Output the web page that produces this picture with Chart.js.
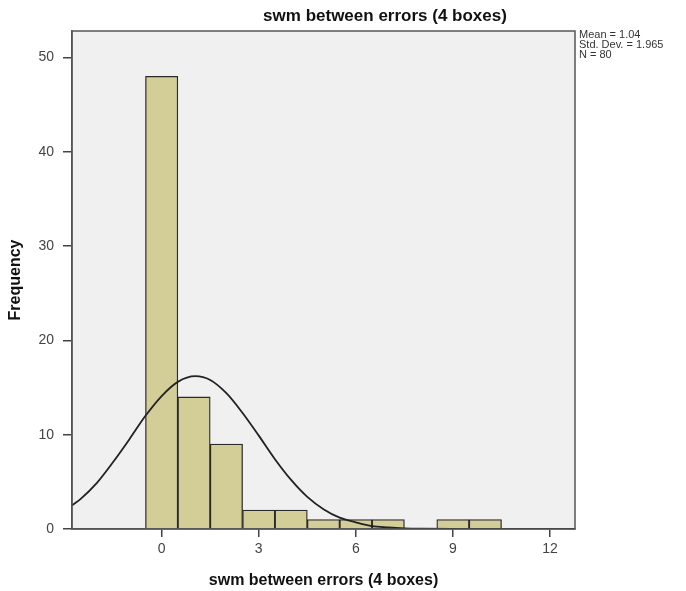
<!DOCTYPE html>
<html>
<head>
<meta charset="utf-8">
<script src="https://cdn.jsdelivr.net/npm/chart.js@4"></script>
<style>
  html, body { margin: 0; padding: 0; background: #fff; }
  #wrap { width: 686px; height: 591px; }
</style>
</head>
<body>
<div id="wrap"><canvas id="hist" width="686" height="591"></canvas></div>
<script>
// Histogram bins (width 1, centered on the value)
const binCenters = [0, 1, 2, 3, 4, 5, 6, 7, 8, 9, 10];
const frequencies = [48, 14, 9, 2, 2, 1, 1, 1, 0, 1, 1];

// Normal curve
const curveX = [-2.77, -2.5, -2, -1.5, -1, -0.5, 0, 0.5, 1.04, 1.5, 2, 2.5, 3, 3.5, 4, 4.5, 5, 5.5, 6, 6.5, 7, 7.5, 8, 9, 10, 11, 12, 12.77];
const curveY = [2.5, 3.2, 4.9, 7.1, 9.5, 12.0, 14.1, 15.6, 16.2, 15.8, 14.4, 12.3, 9.9, 7.4, 5.2, 3.4, 2.1, 1.2, 0.7, 0.3, 0.16, 0.07, 0.03, 0, 0, 0, 0, 0];

const xTicks = [0, 3, 6, 9, 12];
const yTicks = [0, 10, 20, 30, 40, 50];

const chartTitle = 'swm between errors (4 boxes)';
const xTitle = 'swm between errors (4 boxes)';
const yTitle = 'Frequency';
const statsLines = ['Mean = 1.04', 'Std. Dev. = 1.965', 'N = 80'];

const FONT = 'Arial, "Liberation Sans", sans-serif';

// plot background, frame, title and stats box
const framePlugin = {
    id: 'frame',
    beforeDraw(chart) {
        const { ctx, chartArea: { left, top, right, bottom } } = chart;
        ctx.save();
        ctx.fillStyle = '#f0f0f0';
        ctx.fillRect(left, top, right - left, bottom - top);
        ctx.restore();
    },
    afterDraw(chart) {
        const { ctx, chartArea: { left, top, right, bottom } } = chart;
        ctx.save();
        ctx.strokeStyle = '#555';
        ctx.lineWidth = 1.5;
        ctx.strokeRect(left, top, right - left, bottom - top);

        ctx.fillStyle = '#111';
        ctx.font = 'bold 17px ' + FONT;
        ctx.textAlign = 'center';
        ctx.textBaseline = 'middle';
        ctx.fillText(chartTitle, 385, 16);

        ctx.fillStyle = '#333';
        ctx.font = '11px ' + FONT;
        ctx.textAlign = 'left';
        statsLines.forEach((s, i) => ctx.fillText(s, right + 4, 35 + i * 10));
        ctx.restore();
    }
};

new Chart(document.getElementById('hist'), {
    data: {
        datasets: [
            {
                type: 'line',
                label: 'Normal',
                data: curveX.map((x, i) => ({ x: x, y: curveY[i] })),
                borderColor: '#222',
                borderWidth: 1.8,
                pointRadius: 0,
                cubicInterpolationMode: 'monotone',
                fill: false
            },
            {
                type: 'bar',
                label: 'Frequency',
                data: binCenters.map((x, i) => ({ x: x, y: frequencies[i] })),
                backgroundColor: '#d3ce98',
                borderColor: '#2a2a2a',
                borderWidth: 1.3,
                barPercentage: 1,
                categoryPercentage: 1
            }
        ]
    },
    options: {
        responsive: false,
        animation: false,
        layout: { padding: { left: 6, right: 111, top: 31, bottom: 0 } },
        plugins: {
            legend: { display: false },
            tooltip: { enabled: false }
        },
        scales: {
            x: {
                type: 'linear',
                offset: false,
                min: -2.77,
                max: 12.77,
                afterBuildTicks: (scale) => { scale.ticks = xTicks.map(v => ({ value: v })); },
                afterFit: (scale) => { scale.height = 62; },
                grid: { offset: false, drawOnChartArea: false, drawTicks: true, tickLength: 8, color: '#444', lineWidth: 1.5 },
                border: { display: true, color: '#555', width: 1.5 },
                ticks: { color: '#444', font: { family: FONT, size: 14 }, padding: 4, maxRotation: 0 },
                title: { display: true, text: xTitle, color: '#111', font: { family: FONT, size: 16, weight: 'bold' }, padding: { top: 0, bottom: 1 } }
            },
            y: {
                type: 'linear',
                min: 0,
                max: 52.8,
                afterBuildTicks: (scale) => { scale.ticks = yTicks.map(v => ({ value: v })); },
                afterFit: (scale) => { scale.width = 66; },
                grid: { drawOnChartArea: false, drawTicks: true, tickLength: 9, color: '#444', lineWidth: 1.5 },
                border: { display: true, color: '#555', width: 1.5 },
                ticks: { color: '#444', font: { family: FONT, size: 14 }, padding: 9 },
                title: { display: true, text: yTitle, color: '#111', font: { family: FONT, size: 16, weight: 'bold' }, padding: { top: 0, bottom: 0 } }
            }
        }
    },
    plugins: [framePlugin]
});
</script>
</body>
</html>
